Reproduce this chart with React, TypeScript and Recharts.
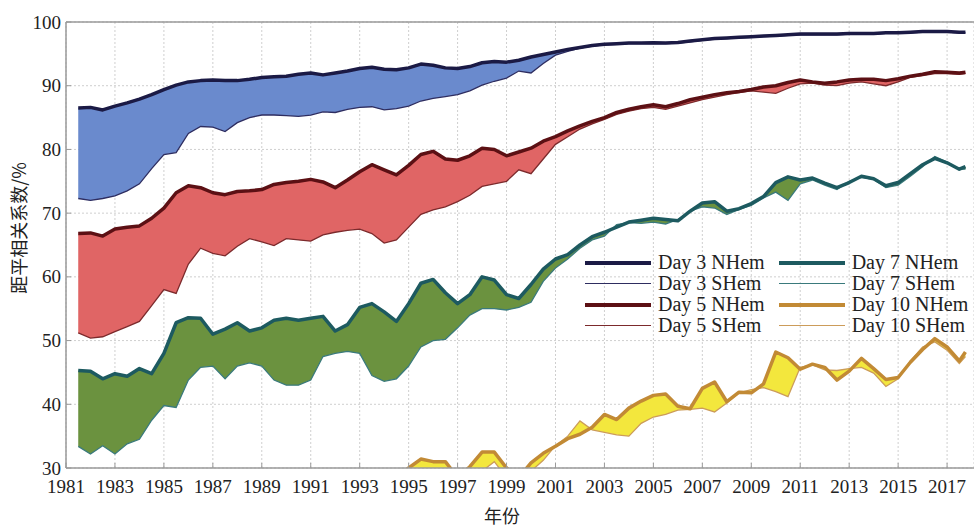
import React from "react";
import {
  ComposedChart,
  Area,
  Line,
  XAxis,
  YAxis,
  CartesianGrid,
  ReferenceLine,
} from "recharts";

// sampling grid (half-year steps)
const years = [
  1981.5, 1982, 1982.5, 1983, 1983.5, 1984, 1984.5, 1985, 1985.5, 1986,
  1986.5, 1987, 1987.5, 1988, 1988.5, 1989, 1989.5, 1990, 1990.5, 1991,
  1991.5, 1992, 1992.5, 1993, 1993.5, 1994, 1994.5, 1995, 1995.5, 1996,
  1996.5, 1997, 1997.5, 1998, 1998.5, 1999, 1999.5, 2000, 2000.5, 2001,
  2001.5, 2002, 2002.5, 2003, 2003.5, 2004, 2004.5, 2005, 2005.5, 2006,
  2006.5, 2007, 2007.5, 2008, 2008.5, 2009, 2009.5, 2010, 2010.5, 2011,
  2011.5, 2012, 2012.5, 2013, 2013.5, 2014, 2014.5, 2015, 2015.5, 2016,
  2016.5, 2017, 2017.5, 2017.75,
];

const day3NHem = [
  86.5, 86.6, 86.2, 86.8, 87.3, 87.9, 88.6, 89.4, 90.1, 90.6,
  90.8, 90.9, 90.8, 90.8, 91.0, 91.3, 91.4, 91.5, 91.8, 92.0,
  91.7, 92.0, 92.3, 92.7, 92.9, 92.6, 92.5, 92.8, 93.4, 93.2,
  92.8, 92.7, 93.0, 93.6, 93.8, 93.7, 94.0, 94.5, 94.9, 95.3,
  95.7, 96.0, 96.3, 96.5, 96.6, 96.7, 96.7, 96.75, 96.7, 96.8,
  97.0, 97.2, 97.4, 97.5, 97.6, 97.7, 97.8, 97.9, 98.0, 98.1,
  98.1, 98.1, 98.1, 98.2, 98.2, 98.2, 98.3, 98.3, 98.4, 98.5,
  98.5, 98.5, 98.4, 98.4,
];
const day3SHem = [
  72.3, 72.0, 72.3, 72.7, 73.5, 74.6, 77.0, 79.2, 79.5, 82.5,
  83.6, 83.5, 82.8, 84.2, 85.0, 85.4, 85.4, 85.3, 85.2, 85.4,
  85.9, 85.8, 86.3, 86.6, 86.7, 86.2, 86.4, 86.8, 87.6, 88.0,
  88.3, 88.6, 89.2, 90.1, 90.7, 91.2, 92.3, 92.0, 93.5, 94.8,
  95.4, 95.9, 96.2, 96.4, 96.5, 96.6, 96.6, 96.6, 96.6, 96.7,
  96.9, 97.1, 97.3, 97.4, 97.5, 97.6, 97.7, 97.8, 97.9, 98.0,
  98.0, 98.0, 98.0, 98.1, 98.1, 98.1, 98.2, 98.2, 98.3, 98.4,
  98.4, 98.4, 98.3, 98.3,
];
const day5NHem = [
  66.8, 66.9, 66.4, 67.5, 67.8, 68.0, 69.2, 70.8, 73.2, 74.3,
  74.0, 73.2, 72.9, 73.4, 73.5, 73.7, 74.5, 74.8, 75.0, 75.3,
  74.9, 74.0, 75.2, 76.5, 77.6, 76.8, 76.0, 77.5, 79.2, 79.7,
  78.5, 78.3, 79.0, 80.2, 80.0, 79.0, 79.6, 80.2, 81.3, 82.0,
  82.9, 83.7, 84.4, 85.0, 85.8, 86.3, 86.7, 87.0, 86.7, 87.2,
  87.8, 88.2, 88.6, 88.9, 89.1, 89.4, 89.8, 90.0, 90.5, 90.9,
  90.6, 90.4, 90.6, 90.9, 91.0, 91.0, 90.8, 91.1, 91.5, 91.8,
  92.2, 92.1, 92.0, 92.1,
];
const day5SHem = [
  51.2, 50.4, 50.6, 51.4, 52.2, 53.0, 55.5, 58.0, 57.4, 62.0,
  64.5, 63.7, 63.3, 64.8, 66.0, 65.5, 64.9, 66.0, 65.8, 65.6,
  66.6, 67.0, 67.3, 67.5, 66.8, 65.3, 65.8, 67.8, 69.8, 70.5,
  71.0, 71.8, 72.8, 74.2, 74.6, 75.0, 76.8, 76.2, 78.5, 80.8,
  82.0, 83.2, 84.0, 84.7, 85.5, 86.0, 86.4, 86.6, 86.3, 86.8,
  87.3, 87.8, 88.2, 88.6, 88.9, 89.2, 89.0, 88.8, 89.6, 90.3,
  90.4, 90.1, 90.0, 90.4, 90.6, 90.3, 90.0, 90.6, 91.3, 91.6,
  91.9, 91.9, 91.8, 91.9,
];
const day7NHem = [
  45.3, 45.2, 44.0, 44.8, 44.4, 45.6, 44.8, 48.0, 52.8, 53.6,
  53.5, 51.0, 51.8, 52.8, 51.5, 52.0, 53.2, 53.5, 53.2, 53.5,
  53.8, 51.5, 52.5, 55.2, 55.8, 54.5, 53.0, 55.8, 59.0, 59.6,
  57.5, 55.8, 57.2, 60.0, 59.5, 57.2, 56.6, 58.8, 61.2, 62.8,
  63.5, 65.0, 66.3, 67.0, 67.8, 68.6, 68.9, 69.2, 69.0, 68.8,
  70.3, 71.6, 71.8, 70.3, 70.7, 71.5, 72.6, 74.8, 75.7, 75.2,
  75.5, 74.7, 74.0, 74.8, 75.8, 75.4, 74.3, 74.8, 76.2, 77.6,
  78.6, 77.9, 76.9, 77.3,
];
const day7SHem = [
  33.4, 32.2, 33.5, 32.2, 33.8, 34.5, 37.5, 39.8, 39.5, 43.8,
  45.8, 46.0, 44.0, 46.0, 46.5, 46.0, 43.8, 43.0, 43.0, 43.8,
  47.5, 48.0, 48.3, 48.0, 44.5, 43.6, 44.0, 46.0, 49.0, 50.0,
  50.2, 52.0, 54.0, 55.0, 55.0, 54.8, 55.2, 56.0, 59.3, 61.4,
  62.8, 64.5, 65.8, 66.4, 68.2, 68.5, 68.4, 68.6, 68.3, 69.0,
  70.3, 71.0, 70.8, 69.8, 70.6, 71.2, 72.4, 73.3, 72.0, 74.6,
  75.2, 74.4, 73.7, 75.0, 75.6, 75.3, 74.0, 74.4, 75.8, 77.3,
  78.9, 78.0, 76.9, 76.9,
];
// day 10 is below the axis before the mid 1990s
const day10Start = 1994.5;
const day10NHem = [
  28.5, 30.0, 31.4, 31.0, 31.0, 28.5, 30.2, 32.5, 32.5, 30.0,
  28.5, 30.8, 32.3, 33.4, 34.6, 35.3, 36.4, 38.4, 37.6, 39.4,
  40.5, 41.4, 41.6, 39.7, 39.3, 42.5, 43.5, 40.4, 41.9, 41.8,
  43.2, 48.2, 47.3, 45.5, 46.3, 45.8, 43.8, 45.2, 47.2, 45.6,
  43.9, 44.2, 46.6, 48.6, 50.3, 49.0, 46.8, 48.2,
];
const day10SHem = [
  27.5, 28.5, 29.5, 29.8, 29.5, 28.0, 29.5, 29.5, 31.0, 28.5,
  27.5, 29.5, 31.2, 33.5, 35.0, 37.4, 36.0, 35.6, 35.2, 35.0,
  37.0, 38.0, 38.4, 39.1, 39.2, 39.4, 38.8, 40.2, 41.8, 42.3,
  42.6, 42.0, 41.2, 45.8, 46.2, 45.4, 45.3, 45.6, 45.8, 44.9,
  42.8, 44.0, 46.8, 49.0, 49.8, 48.5, 46.4, 47.5,
];

const xTicks = [
  1981, 1983, 1985, 1987, 1989, 1991, 1993, 1995, 1997, 1999, 2001, 2003,
  2005, 2007, 2009, 2011, 2013, 2015, 2017,
];
const yTicks = [30, 40, 50, 60, 70, 80, 90, 100];

const d10Offset = years.indexOf(day10Start);
const data = years.map((year, i) => ({
  year,
  d3n: day3NHem[i],
  d3s: day3SHem[i],
  d5n: day5NHem[i],
  d5s: day5SHem[i],
  d7n: day7NHem[i],
  d7s: day7SHem[i],
  d10n: i >= d10Offset ? day10NHem[i - d10Offset] : null,
  d10s: i >= d10Offset ? day10SHem[i - d10Offset] : null,
}));

const groups = [
  { n: "d3n", s: "d3s", day: "Day 3", line: "#1b1a45", thin: "#2e2d60", fill: "#6a8acd" },
  { n: "d5n", s: "d5s", day: "Day 5", line: "#5c1014", thin: "#7c2a2c", fill: "#e06565" },
  { n: "d7n", s: "d7s", day: "Day 7", line: "#1d5a60", thin: "#3a7a7c", fill: "#6b923f" },
  { n: "d10n", s: "d10s", day: "Day 10", line: "#c28a35", thin: "#cc9c5a", fill: "#f3e73d" },
];

const SERIF = '"Liberation Serif", "Times New Roman", serif';
const CJK = '"Noto Sans CJK SC", sans-serif';
const PLOT_BOTTOM = 468;
const AXIS = "#9a9a9a";

const XTick = (props: any) => {
  const { x, payload } = props;
  return (
    <g>
      <line x1={x} x2={x} y1={PLOT_BOTTOM} y2={PLOT_BOTTOM - 5} stroke={AXIS} />
      <text x={x} y={PLOT_BOTTOM + 25} textAnchor="middle" fontSize={19} fill="#222" fontFamily={SERIF}>
        {payload.value}
      </text>
    </g>
  );
};

const YTick = (props: any) => {
  const { y, payload } = props;
  return (
    <g>
      <line x1={66} x2={71} y1={y} y2={y} stroke={AXIS} />
      <text x={61} y={y + 6.5} textAnchor="end" fontSize={19} fill="#222" fontFamily={SERIF}>
        {payload.value}
      </text>
    </g>
  );
};

const LegendBox = () => {
  const items = groups.flatMap((g) => [
    { name: `${g.day} NHem`, color: g.line, w: 4 },
    { name: `${g.day} SHem`, color: g.thin, w: 1.5 },
  ]);
  return (
    <div
      style={{
        position: "absolute",
        left: 585,
        top: 252,
        display: "grid",
        gridAutoFlow: "column",
        gridTemplateRows: "repeat(4, 21px)",
        columnGap: 14,
        fontFamily: SERIF,
        fontSize: 20,
        lineHeight: "21px",
        color: "#222",
      }}
    >
      {items.map((it) => (
        <div key={it.name} style={{ display: "flex", alignItems: "center", whiteSpace: "nowrap" }}>
          <div style={{ width: 66, height: it.w, background: it.color, marginRight: 7 }} />
          <span>{it.name}</span>
        </div>
      ))}
    </div>
  );
};

export default function App() {
  return (
    <div style={{ position: "absolute", left: 0, top: 0, width: 974, height: 528, background: "#fff" }}>
      <ComposedChart
        width={974}
        height={528}
        data={data}
        margin={{ top: 22, right: 0, left: 0, bottom: 0 }}
      >
        <CartesianGrid stroke="#cfcfcf" strokeDasharray="2 2" />
        <XAxis
          dataKey="year"
          type="number"
          domain={[1981, 2018.1]}
          ticks={xTicks}
          allowDataOverflow
          height={60}
          stroke={AXIS}
          strokeWidth={1.5}
          tickLine={false}
          tick={<XTick />}
          interval={0}
          label={{
            content: () => (
              <text x={502} y={523} textAnchor="middle" fontSize={18} fill="#222" fontFamily={CJK}>
                年份
              </text>
            ),
          }}
        />
        <YAxis
          type="number"
          domain={[30, 100]}
          ticks={yTicks}
          allowDataOverflow
          width={66}
          stroke={AXIS}
          strokeWidth={1.5}
          tickLine={false}
          tick={<YTick />}
          interval={0}
          label={{
            content: () => (
              <text
                x={18}
                y={228}
                transform="rotate(-90 18 228)"
                textAnchor="middle"
                dominantBaseline="central"
                fontSize={18}
                fill="#222"
                fontFamily={CJK}
              >
                距平相关系数/%
              </text>
            ),
          }}
        />
        <ReferenceLine y={100} stroke={AXIS} strokeWidth={1.5} />
        {groups.map((g) => (
          <Area
            key={`area-${g.n}`}
            dataKey={(row: any) => (row[g.n] == null ? null : [row[g.s], row[g.n]])}
            type="linear"
            fill={g.fill}
            fillOpacity={1}
            stroke="none"
            legendType="none"
            isAnimationActive={false}
          />
        ))}
        {groups.map((g) => (
          <Line
            key={`s-${g.s}`}
            dataKey={g.s}
            type="linear"
            stroke={g.thin}
            strokeWidth={1.3}
            dot={false}
            isAnimationActive={false}
          />
        ))}
        {groups.map((g) => (
          <Line
            key={`n-${g.n}`}
            dataKey={g.n}
            type="linear"
            stroke={g.line}
            strokeWidth={3.5}
            strokeLinejoin="round"
            dot={false}
            isAnimationActive={false}
          />
        ))}
      </ComposedChart>
      <LegendBox />
    </div>
  );
}
